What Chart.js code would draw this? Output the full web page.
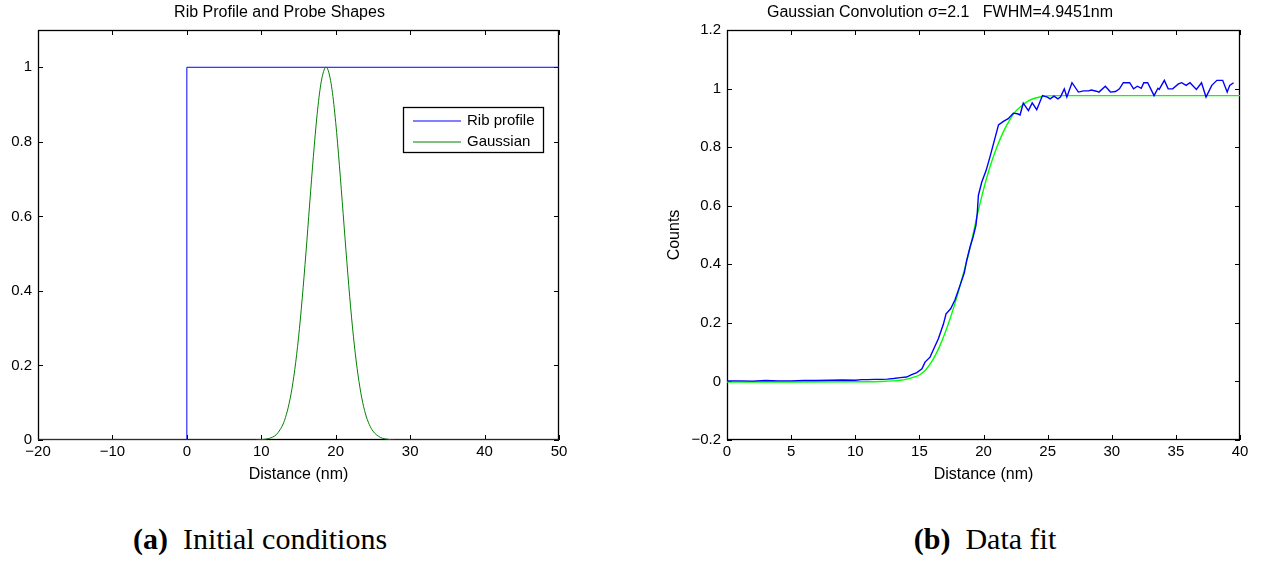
<!DOCTYPE html>
<html>
<head>
<meta charset="utf-8">
<script src="https://cdn.jsdelivr.net/npm/chart.js@4.4.1/dist/chart.umd.min.js"></script>
<style>
  body { margin: 0; background: #fff; width: 1272px; height: 561px; position: relative; overflow: hidden; }
  .panel { position: absolute; top: 0; height: 500px; }
  #wrapA { left: 0; width: 600px; }
  #wrapB { left: 640px; width: 632px; }
  .caption { position: absolute; top: 522px; font-family: "Liberation Serif", "Times New Roman", serif; font-size: 30px; color: #000; white-space: pre; text-align: center; }
  #capA { left: 60px; width: 400px; }
  #capB { left: 785px; width: 400px; }
</style>
</head>
<body>
<div class="panel" id="wrapA"><canvas id="chartA" width="600" height="500"></canvas></div>
<div class="panel" id="wrapB"><canvas id="chartB" width="632" height="500"></canvas></div>
<div class="caption" id="capA"><b>(a)</b>  Initial conditions</div>
<div class="caption" id="capB"><b>(b)</b>  Data fit</div>

<script>
// (a) Rib profile and probe
const ribX = [-20, 0, 0, 50];
const ribY = [0, 0, 1, 1];
const gaussX = [-20, 0, 9, 10, 11, 12, 12.5, 13, 13.5, 14, 14.5, 15, 15.5, 16, 16.5, 17, 17.5, 18, 18.5, 18.7,
  19, 19.5, 20, 20.5, 21, 21.5, 22, 22.5, 23, 23.5, 24, 24.5, 25, 26, 27, 28, 30, 50];
const gaussY = [0, 0, 0, 0.001, 0.004, 0.014, 0.027, 0.046, 0.078, 0.124, 0.189, 0.274, 0.380, 0.502, 0.633, 0.761, 0.873, 0.955, 0.996, 1.0,
  0.991, 0.941, 0.852, 0.736, 0.607, 0.477, 0.357, 0.255, 0.174, 0.113, 0.070, 0.042, 0.024, 0.007, 0.002, 0, 0, 0];
const xTicksA = [-20, -10, 0, 10, 20, 30, 40, 50];
const yTicksA = [0, 0.2, 0.4, 0.6, 0.8, 1];

// (b) measured counts and fit
const countsX = [0, 1, 2, 3, 4, 5, 6, 7, 8, 9, 10, 10.5, 11, 11.5, 12, 12.5, 13, 13.5, 14, 14.4, 14.8, 15.2, 15.44, 15.83,
  16.09, 16.48, 16.87, 17.08, 17.44, 17.78, 18.17, 18.5, 18.69, 18.95, 19.2, 19.41, 19.52, 19.6, 19.86, 20.2, 20.5, 20.64,
  21.17, 21.55, 21.93, 22.33, 22.65, 22.85, 23.1, 23.5, 23.8, 24.15, 24.6, 24.98, 25.2, 25.5, 25.8, 26.0, 26.3, 26.5, 26.9,
  27.4, 27.8, 28.2, 28.4, 28.8, 29.0, 29.5, 29.9, 30.3, 30.6, 30.9, 31.4, 31.7, 32.0, 32.3, 32.5, 32.8, 33.3, 33.6, 33.7,
  34.1, 34.4, 34.75, 35.2, 35.45, 35.8, 36.1, 36.6, 37.0, 37.35, 37.8, 38.2, 38.65, 39.0, 39.2, 39.5];
const countsY = [0.002, 0.002, 0.001, 0.003, 0.002, 0.002, 0.003, 0.003, 0.004, 0.005, 0.004, 0.006, 0.006, 0.007, 0.007, 0.008, 0.010, 0.013, 0.015, 0.023, 0.030, 0.043, 0.066, 0.083,
  0.108, 0.146, 0.195, 0.231, 0.248, 0.279, 0.328, 0.370, 0.413, 0.459, 0.495, 0.533, 0.578, 0.635, 0.680, 0.720, 0.766, 0.789,
  0.876, 0.888, 0.897, 0.916, 0.914, 0.910, 0.950, 0.925, 0.951, 0.928, 0.976, 0.971, 0.965, 0.974, 0.965, 0.971, 0.999, 0.971, 1.020,
  0.988, 0.992, 0.992, 0.995, 0.991, 0.988, 1.008, 0.988, 0.990, 0.999, 1.020, 1.020, 0.999, 1.008, 1.001, 1.020, 1.020, 0.976, 1.001, 0.997,
  1.028, 0.999, 0.999, 1.016, 1.020, 1.011, 1.020, 0.997, 1.020, 0.971, 1.011, 1.028, 1.028, 0.988, 1.011, 1.020];
const fitX = [0, 5, 10, 12, 13, 13.5, 14, 14.5, 15, 15.5, 16, 16.5, 17, 17.5, 18, 18.5, 19, 19.5, 20, 20.5, 21, 21.5, 22, 22.5,
  23, 23.5, 24, 24.5, 25, 25.5, 26, 40];
const fitY = [-0.002, -0.002, -0.001, 0.000, 0.002, 0.004, 0.008, 0.014, 0.022, 0.040, 0.070, 0.112, 0.165, 0.228, 0.300, 0.380, 0.465, 0.565, 0.655, 0.732, 0.795, 0.848, 0.890, 0.922,
  0.942, 0.958, 0.967, 0.972, 0.975, 0.976, 0.976, 0.976];
const xTicksB = [0, 5, 10, 15, 20, 25, 30, 35, 40];
const yTicksB = [-0.2, 0, 0.2, 0.4, 0.6, 0.8, 1, 1.2];

const FONT = '"Liberation Sans", Arial, Helvetica, sans-serif';
const toPoints = (xs, ys) => xs.map((x, i) => ({ x: x, y: ys[i] }));
const fmt = v => String(v).replace('-', '\u2212');

// matlab style frame with inward ticks on all four sides
const boxPlugin = {
  id: 'matlabBox',
  beforeDatasetsDraw(chart) {
    const { ctx, chartArea: { left, right, top, bottom }, scales: { x, y } } = chart;
    const len = 5;
    ctx.save();
    ctx.strokeStyle = '#000';
    ctx.lineWidth = 1;
    ctx.beginPath();
    x.ticks.forEach(t => {
      const px = Math.round(x.getPixelForValue(t.value)) + 0.5;
      ctx.moveTo(px, bottom); ctx.lineTo(px, bottom - len);
      ctx.moveTo(px, top); ctx.lineTo(px, top + len);
    });
    y.ticks.forEach(t => {
      const py = Math.round(y.getPixelForValue(t.value)) + 0.5;
      ctx.moveTo(left, py); ctx.lineTo(left + len, py);
      ctx.moveTo(right, py); ctx.lineTo(right - len, py);
    });
    ctx.stroke();
    ctx.lineWidth = 1.3;
    ctx.strokeRect(left + 0.5, top + 0.5, right - left - 1, bottom - top - 1);
    ctx.restore();
  }
};

// boxed legend inside the axes
const legendBoxPlugin = {
  id: 'legendBox',
  afterDatasetsDraw(chart) {
    const { ctx, chartArea: { right, top } } = chart;
    const x0 = right - 156, y0 = top + 77, w = 140, h = 45;
    ctx.save();
    ctx.fillStyle = '#fff';
    ctx.fillRect(x0, y0, w, h);
    ctx.strokeStyle = '#000';
    ctx.lineWidth = 1.3;
    ctx.strokeRect(x0 + 0.5, y0 + 0.5, w, h);
    ctx.font = '15px ' + FONT;
    ctx.textBaseline = 'middle';
    ctx.textAlign = 'left';
    chart.data.datasets.forEach((ds, i) => {
      const yy = y0 + 14 + i * 21;
      ctx.beginPath();
      ctx.moveTo(x0 + 10, yy);
      ctx.lineTo(x0 + 58, yy);
      ctx.strokeStyle = ds.borderColor;
      ctx.lineWidth = 1.2;
      ctx.stroke();
      ctx.fillStyle = '#000';
      ctx.fillText(ds.label, x0 + 64, yy);
    });
    ctx.restore();
  }
};

function axisOptions(min, max, tickList, fixedSize, isY, titleText, titlePad) {
  return {
    type: 'linear',
    min: min,
    max: max,
    grid: { display: false, drawTicks: false },
    border: { display: false },
    afterBuildTicks: s => { s.ticks = tickList.map(v => ({ value: v })); },
    afterFit: s => { if (isY) s.width = fixedSize; else s.height = fixedSize; },
    ticks: {
      color: '#000',
      font: { family: FONT, size: 15 },
      padding: isY ? 6 : 3,
      maxRotation: 0,
      autoSkip: false,
      callback: v => fmt(v)
    },
    title: {
      display: !!titleText,
      text: titleText,
      color: '#000',
      font: { family: FONT, size: 16 },
      padding: titlePad
    }
  };
}

function titleOptions(text) {
  return {
    display: true,
    text: text,
    color: '#000',
    font: { family: FONT, size: 16, weight: 'normal', lineHeight: '20px' },
    padding: { top: 3, bottom: 7 }
  };
}

new Chart(document.getElementById('chartA'), {
  type: 'line',
  data: {
    datasets: [
      { label: 'Rib profile', data: toPoints(ribX, ribY), borderColor: '#0000ff', borderWidth: 1, pointRadius: 0, tension: 0, order: 1 },
      { label: 'Gaussian', data: toPoints(gaussX, gaussY), borderColor: '#008000', borderWidth: 1, pointRadius: 0, cubicInterpolationMode: 'monotone', order: 0 }
    ]
  },
  options: {
    responsive: false,
    animation: false,
    layout: { padding: { top: 0, right: 41, left: 0, bottom: 0 } },
    scales: {
      x: axisOptions(-20, 50, xTicksA, 60, false, 'Distance (nm)', { top: 0, bottom: 16 }),
      y: axisOptions(0, 1.1, yTicksA, 38, true, '', 0)
    },
    plugins: {
      legend: { display: false },
      tooltip: { enabled: false },
      title: titleOptions('Rib Profile and Probe Shapes')
    }
  },
  plugins: [boxPlugin, legendBoxPlugin]
});

new Chart(document.getElementById('chartB'), {
  type: 'line',
  data: {
    datasets: [
      { label: 'Counts', data: toPoints(countsX, countsY), borderColor: '#0000ff', borderWidth: 1.4, pointRadius: 0, tension: 0 },
      { label: 'Fit', data: toPoints(fitX, fitY), borderColor: '#00ff00', borderWidth: 1.4, pointRadius: 0, cubicInterpolationMode: 'monotone' }
    ]
  },
  options: {
    responsive: false,
    animation: false,
    layout: { padding: { top: 0, right: 32, left: 0, bottom: 0 } },
    scales: {
      x: axisOptions(0, 40, xTicksB, 60, false, 'Distance (nm)', { top: 0, bottom: 16 }),
      y: axisOptions(-0.2, 1.2, yTicksB, 87, true, 'Counts', { top: 25, bottom: 0 })
    },
    plugins: {
      legend: { display: false },
      tooltip: { enabled: false },
      title: titleOptions('Gaussian Convolution \u03c3=2.1   FWHM=4.9451nm')
    }
  },
  plugins: [boxPlugin]
});
</script>
</body>
</html>
